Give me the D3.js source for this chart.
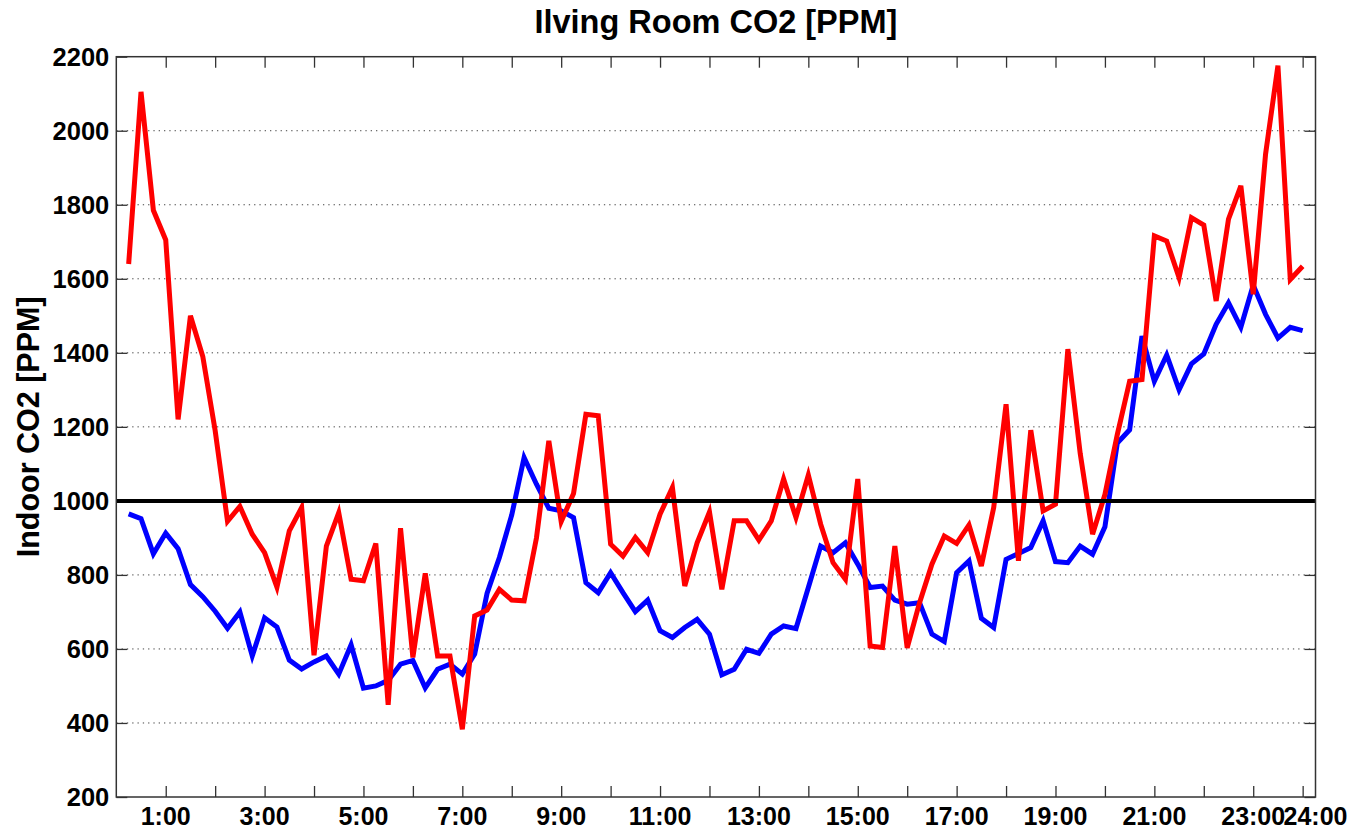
<!DOCTYPE html>
<html>
<head>
<meta charset="utf-8">
<title>Living room CO2</title>
<script src="https://cdn.jsdelivr.net/npm/d3@7"></script>
<style>
  body { margin: 0; background: #fff; }
  svg { display: block; font-family: "Liberation Sans", Arial, sans-serif; font-weight: bold; }
</style>
</head>
<body>
<script>
// readings every 15 minutes, 0:15 .. 24:00
const hours = d3.range(1, 97).map(i => i / 4);

const blueCO2 = [
  965, 952, 857, 913, 871, 774, 741, 702, 656, 700, 581, 684, 659, 570, 546, 565,
  581, 532, 611, 494, 500, 515, 559, 569, 495, 545, 559, 532, 586, 750, 847, 962,
  1117, 1045, 980, 973, 955, 779, 752, 806, 752, 701, 732, 649, 631, 658, 680, 640,
  530, 545, 599, 588, 640, 662, 655, 766, 878, 860, 887, 829, 766, 770, 732, 721,
  725, 640, 620, 806, 838, 683, 658, 842, 858, 874, 946, 836, 833, 878, 856, 930,
  1156, 1192, 1445, 1323, 1394, 1300, 1370, 1397, 1477, 1535, 1469, 1583, 1504, 1440, 1469, 1460
];

const redCO2 = [
  1640, 2105, 1785, 1705, 1220, 1500, 1390, 1190, 945, 985, 910, 860, 767, 919, 982, 583,
  878, 968, 788, 784, 885, 449, 926, 577, 804, 581, 581, 383, 689, 705, 761, 732,
  730, 900, 1162, 944, 1020, 1234, 1230, 883, 851, 901, 860, 964, 1036, 770, 887, 970,
  761, 946, 946, 894, 946, 1059, 955, 1070, 937, 833, 788, 1059, 608, 604, 878, 603,
  725, 829, 905, 885, 935, 824, 982, 1261, 838, 1191, 973, 991, 1410, 1128, 910, 1017,
  1179, 1323, 1328, 1716, 1702, 1603, 1765, 1745, 1540, 1761, 1851, 1558, 1937, 2176, 1598, 1634
];

const limitCO2 = 1000;

const xTickHours = [1, 3, 5, 7, 9, 11, 13, 15, 17, 19, 21, 23, 24];
const xTickLabels = ["1:00", "3:00", "5:00", "7:00", "9:00", "11:00", "13:00",
                     "15:00", "17:00", "19:00", "21:00", "23:00", "24:00"];
const yTicks = [200, 400, 600, 800, 1000, 1200, 1400, 1600, 1800, 2000, 2200];

const w = 1356, h = 834;
const margin = {top: 56.7, right: 40.5, bottom: 37, left: 116.3};

const x = d3.scaleLinear()
  .domain([0, 24.26])
  .range([margin.left, w - margin.right]);

const y = d3.scaleLinear()
  .domain([200, 2200])
  .range([h - margin.bottom, margin.top]);

const svg = d3.select("body").append("svg")
  .attr("width", w)
  .attr("height", h);

const frameColor = "#333";
const tickLen = 11;

// dotted grid
svg.append("g")
  .selectAll("line")
  .data(yTicks.slice(1, -1))
  .enter().append("line")
  .attr("x1", x.range()[0]).attr("x2", x.range()[1])
  .attr("y1", d => y(d)).attr("y2", d => y(d))
  .attr("stroke", "#444")
  .attr("stroke-width", 1)
  .attr("stroke-dasharray", "1.3,4");

// axes with inward ticks (hourly on x)
const hourTicks = d3.range(1, 25);
svg.append("g")
  .attr("transform", `translate(0,${y.range()[0]})`)
  .call(d3.axisTop(x).tickValues(hourTicks).tickSize(tickLen).tickFormat(""))
  .call(g => g.select(".domain").remove())
  .selectAll("line").attr("stroke", frameColor).attr("stroke-width", 1.3);
svg.append("g")
  .attr("transform", `translate(0,${y.range()[1]})`)
  .call(d3.axisBottom(x).tickValues(hourTicks).tickSize(tickLen).tickFormat(""))
  .call(g => g.select(".domain").remove())
  .selectAll("line").attr("stroke", frameColor).attr("stroke-width", 1.3);
svg.append("g")
  .attr("transform", `translate(${x.range()[0]},0)`)
  .call(d3.axisRight(y).tickValues(yTicks).tickSize(tickLen).tickFormat(""))
  .call(g => g.select(".domain").remove())
  .selectAll("line").attr("stroke", frameColor).attr("stroke-width", 1.3);
svg.append("g")
  .attr("transform", `translate(${x.range()[1]},0)`)
  .call(d3.axisLeft(y).tickValues(yTicks).tickSize(tickLen).tickFormat(""))
  .call(g => g.select(".domain").remove())
  .selectAll("line").attr("stroke", frameColor).attr("stroke-width", 1.3);

// tick labels
svg.append("g")
  .selectAll("text")
  .data(yTicks)
  .enter().append("text")
  .attr("x", x.range()[0] - 7)
  .attr("y", d => y(d))
  .attr("dy", "0.36em")
  .attr("text-anchor", "end")
  .attr("font-size", 25.5)
  .attr("fill", "#000")
  .text(d => d);

svg.append("g")
  .selectAll("text")
  .data(xTickHours)
  .enter().append("text")
  .attr("x", d => d === 24 ? x.range()[1] : x(d))
  .attr("y", 825)
  .attr("text-anchor", "middle")
  .attr("font-size", 25)
  .attr("fill", "#000")
  .text((d, i) => xTickLabels[i]);

// data lines
const line = d3.line()
  .x((d, i) => x(hours[i]))
  .y(d => y(d));

svg.append("path")
  .datum(blueCO2)
  .attr("d", line)
  .attr("fill", "none")
  .attr("stroke", "#0000ff")
  .attr("stroke-width", 5)
  .attr("stroke-linejoin", "miter");

svg.append("path")
  .datum(redCO2)
  .attr("d", line)
  .attr("fill", "none")
  .attr("stroke", "#ff0000")
  .attr("stroke-width", 5)
  .attr("stroke-linejoin", "miter");

// 1000 ppm reference
svg.append("line")
  .attr("x1", x.range()[0]).attr("x2", x.range()[1])
  .attr("y1", y(limitCO2)).attr("y2", y(limitCO2))
  .attr("stroke", "#000")
  .attr("stroke-width", 4);

// frame
svg.append("rect")
  .attr("x", x.range()[0]).attr("y", y.range()[1])
  .attr("width", x.range()[1] - x.range()[0])
  .attr("height", y.range()[0] - y.range()[1])
  .attr("fill", "none")
  .attr("stroke", frameColor)
  .attr("stroke-width", 1.5);

// title and axis label
svg.append("text")
  .attr("x", (x.range()[0] + x.range()[1]) / 2)
  .attr("y", 33)
  .attr("text-anchor", "middle")
  .attr("font-size", 32.5)
  .attr("fill", "#000")
  .text("Ilving Room CO2 [PPM]");

svg.append("text")
  .attr("transform", `translate(39,${(y.range()[0] + y.range()[1]) / 2}) rotate(-90)`)
  .attr("text-anchor", "middle")
  .attr("font-size", 30.5)
  .attr("fill", "#000")
  .text("Indoor CO2 [PPM]");
</script>
</body>
</html>
